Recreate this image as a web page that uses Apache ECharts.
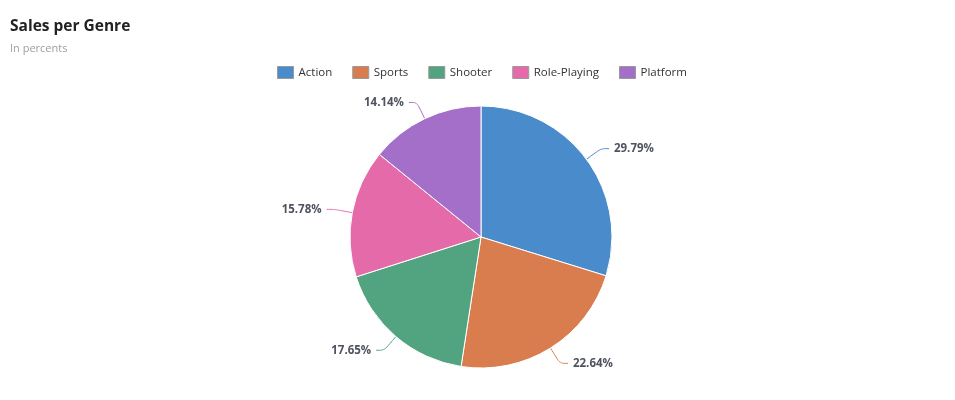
<!DOCTYPE html>
<html>
<head>
<meta charset="utf-8">
<script src="https://cdn.jsdelivr.net/npm/echarts@6/dist/echarts.min.js"></script>
<style>
  html, body { margin: 0; padding: 0; background: #fff; }
  #main { width: 955px; height: 400px; }
</style>
</head>
<body>
<div id="main"></div>
<script>
let genres = ['Action', 'Sports', 'Shooter', 'Role-Playing', 'Platform'];
let shares = [29.79, 22.64, 17.65, 15.78, 14.14];
let colors = ['#4a8ccb', '#d97c4e', '#52a37f', '#e56aa9', '#a46fc8'];

let chart = echarts.init(document.getElementById('main'));

let pieData = [];
for (let i = 0; i < genres.length; i++) {
  pieData.push({ name: genres[i], value: shares[i] });
}

let option = {
  color: colors,
  title: {
    text: 'Sales per Genre',
    subtext: 'In percents',
    left: 5,
    top: 14,
    itemGap: 8,
    textStyle: {
      fontFamily: 'Open Sans',
      fontSize: 15.5,
      fontWeight: 'bold',
      color: '#222'
    },
    subtextStyle: {
      fontFamily: 'Open Sans',
      fontSize: 11,
      color: '#9aa0a6'
    }
  },
  legend: {
    data: genres,
    left: 272,
    top: 61,
    itemWidth: 16,
    itemHeight: 12,
    itemGap: 20,
    icon: 'rect',
    itemStyle: {
      borderColor: '#999',
      borderWidth: 1
    },
    textStyle: {
      fontFamily: 'Open Sans',
      fontSize: 11.5,
      color: '#333'
    }
  },
  series: [
    {
      name: 'Genre',
      type: 'pie',
      center: [481, 237],
      radius: 131,
      startAngle: 90,
      clockwise: true,
      itemStyle: {
        borderColor: '#fff',
        borderWidth: 1
      },
      label: {
        formatter: function (p) { return p.value.toFixed(2) + '%'; },
        fontFamily: 'Open Sans',
        fontSize: 11.5,
        fontWeight: 'bold',
        color: '#4f5360'
      },
      labelLine: {
        length: 18,
        length2: 8,
        smooth: true
      },
      emphasis: { scale: false },
      data: pieData
    }
  ]
};

chart.setOption(option);
</script>
</body>
</html>
